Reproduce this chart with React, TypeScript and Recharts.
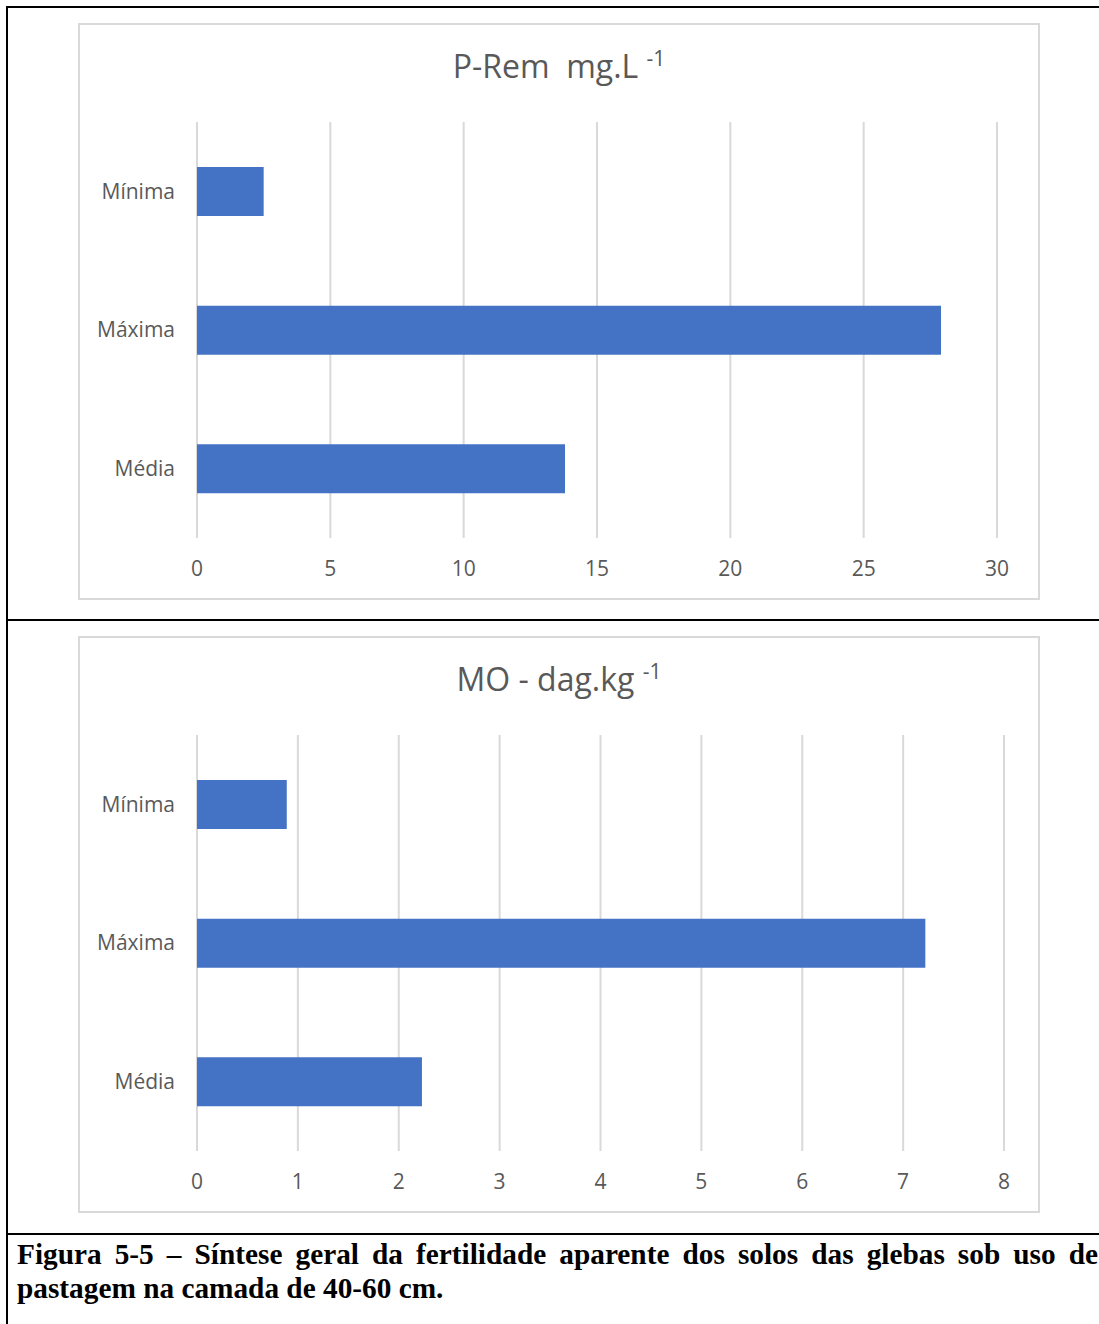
import React from 'react';
import { BarChart, Bar, XAxis, YAxis, CartesianGrid } from 'recharts';

// Categories shared by both panels
const categories = ['Mínima', 'Máxima', 'Média'];

// P-Rem (mg.L-1)
const pRemValues = [2.5, 27.9, 13.8];
const pRemTicks = [0, 5, 10, 15, 20, 25, 30];

// Matéria orgânica (dag.kg-1)
const moValues = [0.89, 7.22, 2.23];
const moTicks = [0, 1, 2, 3, 4, 5, 6, 7, 8];

const BAR_COLOR = '#4472C4';
const TEXT_COLOR = '#595959';
const GRID_COLOR = '#D9D9D9';
const CHART_FONT = '"Open Sans", "Noto Sans", sans-serif';

const BOX_W = 962;
const BOX_H = 577;

type PanelProps = {
  top: number;
  title: string;
  sup: string;
  values: number[];
  ticks: number[];
  rightMargin: number;
};

function Panel({ top, title, sup, values, ticks, rightMargin }: PanelProps) {
  const data = categories.map((name, i) => ({ name, value: values[i] }));
  const tickStyle = { fill: TEXT_COLOR, fontSize: 21, fontFamily: CHART_FONT };
  return (
    <>
      <div
        style={{
          position: 'absolute',
          left: 78,
          top,
          width: BOX_W,
          height: BOX_H,
          border: `2px solid ${GRID_COLOR}`,
          boxSizing: 'border-box',
          background: '#fff',
        }}
      />
      <div style={{ position: 'absolute', left: 78, top, width: BOX_W, height: BOX_H }}>
        <BarChart
          width={BOX_W}
          height={BOX_H}
          data={data}
          layout="vertical"
          margin={{ top: 99, right: rightMargin, bottom: 22, left: 0 }}
        >
          <CartesianGrid horizontal={false} vertical stroke={GRID_COLOR} strokeWidth={2} />
          <XAxis
            type="number"
            domain={[ticks[0], ticks[ticks.length - 1]]}
            ticks={ticks}
            interval={0}
            axisLine={false}
            tickLine={false}
            tickSize={0}
            tickMargin={23}
            height={40}
            tick={tickStyle}
          />
          <YAxis
            type="category"
            dataKey="name"
            width={119}
            axisLine={false}
            tickLine={false}
            tickSize={0}
            tickMargin={22}
            tick={tickStyle}
          />
          <Bar dataKey="value" fill={BAR_COLOR} barSize={49} isAnimationActive={false} />
        </BarChart>
      </div>
      <svg
        width={BOX_W}
        height={100}
        style={{ position: 'absolute', left: 78, top, overflow: 'visible' }}
      >
        <text
          x={BOX_W / 2}
          y={55}
          textAnchor="middle"
          fill={TEXT_COLOR}
          fontFamily={CHART_FONT}
          fontSize={32}
          style={{ whiteSpace: 'pre' }}
        >
          <tspan>{title}</tspan>
          <tspan fontSize={21} dy={-12}>{sup}</tspan>
        </text>
      </svg>
    </>
  );
}

export default function App() {
  return (
    <div
      style={{
        position: 'absolute',
        left: 0,
        top: 0,
        width: 1099,
        height: 1324,
        overflow: 'hidden',
        background: '#fff',
      }}
    >
      {/* table frame */}
      <div style={{ position: 'absolute', left: 6, top: 6, width: 1200, height: 2, background: '#000' }} />
      <div style={{ position: 'absolute', left: 6, top: 6, width: 2, height: 1330, background: '#000' }} />
      <div style={{ position: 'absolute', left: 6, top: 619, width: 1200, height: 2, background: '#000' }} />
      <div style={{ position: 'absolute', left: 6, top: 1233, width: 1200, height: 2, background: '#000' }} />

      <Panel top={23} title="P-Rem  mg.L " sup="-1" values={pRemValues} ticks={pRemTicks} rightMargin={43} />
      <Panel top={636} title="MO - dag.kg " sup="-1" values={moValues} ticks={moTicks} rightMargin={36} />

      <div
        style={{
          position: 'absolute',
          left: 17,
          top: 1237,
          width: 1081,
          fontFamily: '"Liberation Serif", "Times New Roman", serif',
          fontWeight: 'bold',
          fontSize: 29.3,
          lineHeight: '34px',
          textAlign: 'justify',
          color: '#000',
        }}
      >
        Figura 5-5 – Síntese geral da fertilidade aparente dos solos das glebas sob uso de pastagem na camada de 40-60 cm.
      </div>
    </div>
  );
}
